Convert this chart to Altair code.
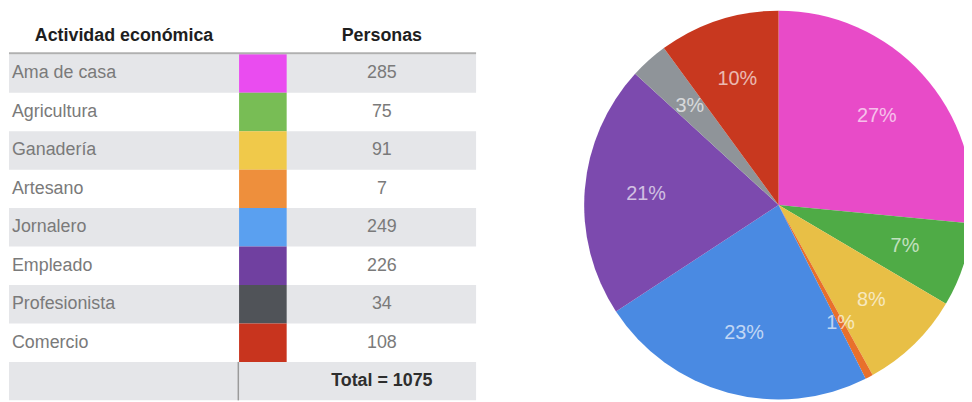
import altair as alt
import pandas as pd

categorias = ["Ama de casa", "Agricultura", "Ganadería", "Artesano",
              "Jornalero", "Empleado", "Profesionista", "Comercio"]
personas = [285, 75, 91, 7, 249, 226, 34, 108]
encabezados = ["Actividad económica", "Personas"]
etiqueta_total = "Total"

colores_tabla = ["#ea4cf0", "#78bd55", "#f0c94a", "#ee8f3c",
                 "#5aa0f0", "#7040a0", "#505358", "#c8341e"]
colores_pie = ["#e84bc8", "#4fab46", "#e8bf46", "#e8702c",
               "#4a8ae2", "#7c4aae", "#8f9499", "#c8381f"]

FONT = "Liberation Sans"
total = sum(personas)
filas = categorias + [etiqueta_total]

df = pd.DataFrame({"fila": categorias, "Personas": personas,
                   "idx": list(range(len(categorias)))})
df_filas = pd.DataFrame({"fila": filas, "idx": list(range(len(filas)))})
df_total = pd.DataFrame({"fila": [etiqueta_total],
                         "texto": [f"Total = {total}"]})
df_h1 = pd.DataFrame({"h": [encabezados[0]]})
df_h2 = pd.DataFrame({"h": [encabezados[1]]})

yscale = alt.Scale(domain=filas, range=[45, 394], paddingInner=0, paddingOuter=0)
Y = alt.Y("fila:N", scale=yscale, axis=None)

bg = alt.Chart(df_filas).transform_filter("datum.idx % 2 == 0").mark_rect(
    color="#e5e6e9").encode(x=alt.value(1), x2=alt.value(472), y=Y)

swatch = alt.Chart(df).mark_rect().encode(
    x=alt.value(233), x2=alt.value(281), y=Y,
    fill=alt.Fill("fila:N", scale=alt.Scale(domain=categorias, range=colores_tabla),
                  legend=None))

vline = alt.Chart(df_total).mark_rect(color="#9a9a9a").encode(
    x=alt.value(231.5), x2=alt.value(233), y=Y)

labels = alt.Chart(df).mark_text(align="left", baseline="middle", font=FONT,
                                 fontSize=18, color="#7a7a7a").encode(
    x=alt.value(4), y=Y, text="fila:N")

nums = alt.Chart(df).mark_text(align="center", baseline="middle", font=FONT,
                               fontSize=18, color="#7a7a7a").encode(
    x=alt.value(377), y=Y, text="Personas:Q")

tot_txt = alt.Chart(df_total).mark_text(align="center", baseline="middle", font=FONT,
                                        fontSize=18, fontWeight="bold",
                                        color="#2e2e2e").encode(
    x=alt.value(377), y=Y, text="texto:N")

h1 = alt.Chart(df_h1).mark_text(align="left", baseline="middle", font=FONT,
                                fontSize=18, fontWeight="bold", color="#1e1e1e").encode(
    x=alt.value(27), y=alt.value(27), text="h:N")
h2 = alt.Chart(df_h2).mark_text(align="center", baseline="middle", font=FONT,
                                fontSize=18, fontWeight="bold", color="#1e1e1e").encode(
    x=alt.value(377), y=alt.value(27), text="h:N")
hline = alt.Chart(df_h1).mark_rule(color="#b0b0b0", strokeWidth=2).encode(
    x=alt.value(1), x2=alt.value(472), y=alt.value(44))

base_pie = alt.Chart(df).transform_joinaggregate(
    tot="sum(Personas)").transform_calculate(pct="datum.Personas / datum.tot")

arcs = base_pie.mark_arc(outerRadius=196).encode(
    theta=alt.Theta("Personas:Q", stack=True),
    order=alt.Order("idx:Q", sort="ascending"),
    color=alt.Color("fila:N", scale=alt.Scale(domain=categorias, range=colores_pie),
                    legend=None),
    x=alt.value(777), y=alt.value(197))

pct = base_pie.mark_text(radius=134, font=FONT, fontSize=20, color="#ffffff",
                         opacity=0.65, align="center", baseline="middle").encode(
    theta=alt.Theta("Personas:Q", stack=True),
    order=alt.Order("idx:Q", sort="ascending"),
    text=alt.Text("pct:Q", format=".0%"),
    x=alt.value(777), y=alt.value(197))

chart = alt.layer(bg, swatch, vline, labels, nums, tot_txt, h1, h2, hline,
                  arcs, pct).properties(
    width=964, height=394, padding=0, autosize="none", background="white"
).configure_view(stroke=None)

chart.save("out.html", embed_options={"renderer": "svg", "actions": False})
